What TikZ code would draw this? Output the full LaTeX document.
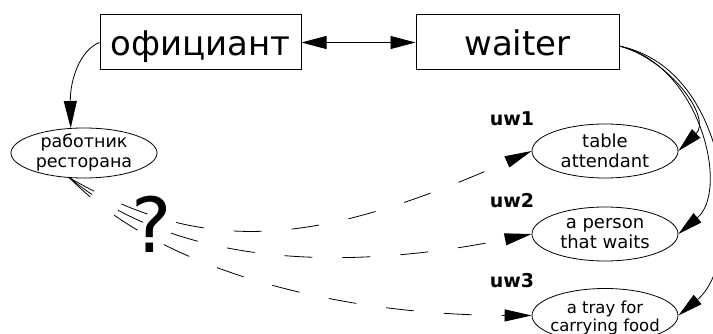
\documentclass[tikz,border=0pt]{standalone}
\usepackage{fontspec}
\setmainfont{DejaVu Sans}
\usetikzlibrary{shapes.geometric,arrows.meta}
\begin{document}
\begin{tikzpicture}[x=1pt,y=-1pt,line width=0.8pt,
  boxn/.style={draw,rectangle,line width=1pt,minimum height=55pt,inner sep=0pt,
    text height=27pt,text depth=0pt,font=\fontsize{34}{40}\selectfont},
  ell/.style={draw,ellipse,minimum width=146pt,minimum height=54pt,inner sep=0pt},
  etext/.style={align=center,inner sep=0pt,font=\fontsize{18}{20}\selectfont},
  ttext/.style={align=center,inner sep=0pt,font=\fontsize{16.5}{18}\selectfont},
  uwlab/.style={inner sep=0pt,font=\fontsize{19}{22}\selectfont\bfseries},
  tipa/.style={-{Triangle[length=25pt,width=12pt]}},
  dtip/.style={-{Triangle[length=27pt,width=12pt]},dash pattern=on 28pt off 30pt}]
\useasboundingbox (0,0) rectangle (713,334);
\clip (0,0) rectangle (713,334);
% boxes
\node[boxn,minimum width=201pt] (off) at (200.5,42.5) {официант};
\node[boxn,minimum width=203pt] (wai) at (517.5,42.5) {waiter};
% ellipses
\node[ell,minimum height=50pt,label={[etext,font=\fontsize{17.5}{20}\selectfont]center:{работник\\ресторана}}] (rab) at (84,153) {};
\node[ell,label={[etext]center:{table\\attendant}}] (t1) at (605,151) {};
\node[ell,label={[etext]center:{a person\\that waits}}] (t2) at (605,234) {};
\node[ell,label={[ttext,yshift=-2pt]center:{a tray for\\carrying food}}] (t3) at (605,315.5) {};
% labels
\node[uwlab] (u1) at (512,119) {uw1};
\node[uwlab] (u2) at (512,201) {uw2};
\node[uwlab] (u3) at (512,281) {uw3};
\node[inner sep=0pt,font=\fontsize{76}{80}\selectfont] (q) at (152,224) {?};
% connectors
\draw[{Triangle[length=25pt,width=13pt]}-{Triangle[length=25pt,width=13pt]}] (off.east) -- (wai.west);
\draw[-{Triangle[length=27pt,width=13pt]}] (off.west) .. controls (80,50) and (70,80) .. (rab.118);
\draw[tipa] (wai.-2) .. controls (670,60) and (712,118) .. (t1.east);
\draw[tipa] (wai.-2) .. controls (700,65) and (730,190) .. (t2.east);
\draw[tipa] (wai.-2) .. controls (735,70) and (745,260) .. (t3.east);
\draw[dtip] (rab.-120) .. controls (205,256) and (314,247) .. (t1.west);
\draw[dtip] (rab.-120) .. controls (192,278) and (379,265) .. (t2.west);
\draw[dtip] (rab.-120) .. controls (167,277) and (352,315) .. (t3.west);
\end{tikzpicture}
\end{document}
